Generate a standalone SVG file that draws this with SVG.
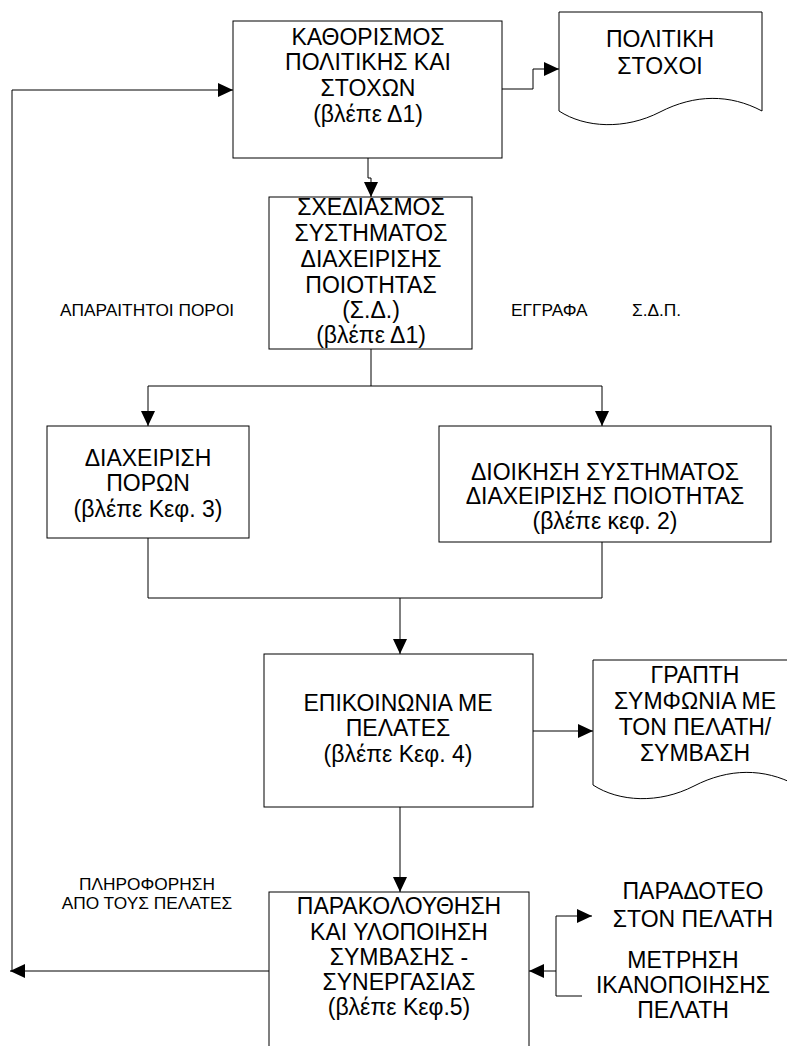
<svg xmlns="http://www.w3.org/2000/svg" width="787" height="1046" viewBox="0 0 787 1046">
<style>
.box{fill:#fff;stroke:#000;stroke-width:1}
.doc{fill:#fff;stroke:#000;stroke-width:1}
.t{font-family:"Liberation Sans",Arial,sans-serif;font-size:23px;fill:#000;text-anchor:middle}
.s{font-family:"Liberation Sans",Arial,sans-serif;font-size:17.3px;fill:#000}
.c{fill:none;stroke:#000;stroke-width:1}
</style>
<defs>
<marker id="ah" viewBox="0 0 15 14" refX="15" refY="7" markerWidth="15" markerHeight="14" markerUnits="userSpaceOnUse" orient="auto">
<path d="M0,0 L15,7 L0,14 z" fill="#000"/>
</marker>
</defs>
<rect width="787" height="1046" fill="#fff"/>

<g id="connectors">
<path class="c" d="M368,158 V178 H371 V197" marker-end="url(#ah)"/>
<path class="c" d="M502,89 H533 V69 H559" marker-end="url(#ah)"/>
<path class="c" d="M12,971 V90 H233" marker-end="url(#ah)"/>
<path class="c" d="M371,349 V386 H148 V426" marker-end="url(#ah)"/>
<path class="c" d="M371,386 H602 V426" marker-end="url(#ah)"/>
<path class="c" d="M148,538 V598 H602 V542"/>
<path class="c" d="M400,598 V654" marker-end="url(#ah)"/>
<path class="c" d="M533,731 H593" marker-end="url(#ah)"/>
<path class="c" d="M400,807 V892" marker-end="url(#ah)"/>
<path class="c" d="M269,971 H10" marker-end="url(#ah)"/>
<path class="c" d="M556,971 H529" marker-end="url(#ah)"/>
<path class="c" d="M582,996 H556 V916 H592" marker-end="url(#ah)"/>
</g>

<g id="n1">
<rect class="box" x="233" y="21" width="269" height="137"/>
<text class="t" x="368" y="45">ΚΑΘΟΡΙΣΜΟΣ</text>
<text class="t" x="368" y="70">ΠΟΛΙΤΙΚΗΣ ΚΑΙ</text>
<text class="t" x="368" y="96">ΣΤΟΧΩΝ</text>
<text class="t" x="368" y="122">(βλέπε Δ1)</text>
</g>

<g id="doc1">
<path class="doc" d="M559,111 V12 H762 V111 C730,94 695,94 660,112 C625,130 585,128 559,111 z"/>
<text class="t" x="660" y="47">ΠΟΛΙΤΙΚΗ</text>
<text class="t" x="660" y="74">ΣΤΟΧΟΙ</text>
</g>

<g id="n2">
<rect class="box" x="269" y="197" width="203" height="152"/>
<text class="t" x="371" y="215">ΣΧΕΔΙΑΣΜΟΣ</text>
<text class="t" x="371" y="241">ΣΥΣΤΗΜΑΤΟΣ</text>
<text class="t" x="371" y="267">ΔΙΑΧΕΙΡΙΣΗΣ</text>
<text class="t" x="371" y="293">ΠΟΙΟΤΗΤΑΣ</text>
<text class="t" x="371" y="318">(Σ.Δ.)</text>
<text class="t" x="371" y="343">(βλέπε Δ1)</text>
</g>

<g id="labels">
<text class="s" x="60" y="316">ΑΠΑΡΑΙΤΗΤΟΙ ΠΟΡΟΙ</text>
<text class="s" y="316"><tspan x="511">ΕΓΓΡΑΦΑ</tspan><tspan x="632">Σ.Δ.Π.</tspan></text>
<text class="s" x="147" y="890" text-anchor="middle">ΠΛΗΡΟΦΟΡΗΣΗ</text>
<text class="s" x="147" y="909" text-anchor="middle">ΑΠΟ ΤΟΥΣ ΠΕΛΑΤΕΣ</text>
</g>

<g id="n3">
<rect class="box" x="47" y="426" width="202" height="112"/>
<text class="t" x="148" y="466">ΔΙΑΧΕΙΡΙΣΗ</text>
<text class="t" x="148" y="491">ΠΟΡΩΝ</text>
<text class="t" x="148" y="517">(βλέπε Κεφ. 3)</text>
</g>

<g id="n4">
<rect class="box" x="439" y="426" width="332" height="116"/>
<text class="t" x="605" y="480">ΔΙΟΙΚΗΣΗ ΣΥΣΤΗΜΑΤΟΣ</text>
<text class="t" x="605" y="504">ΔΙΑΧΕΙΡΙΣΗΣ ΠΟΙΟΤΗΤΑΣ</text>
<text class="t" x="605" y="529">(βλέπε κεφ. 2)</text>
</g>

<g id="n5">
<rect class="box" x="264" y="654" width="269" height="153"/>
<text class="t" x="398" y="711">ΕΠΙΚΟΙΝΩΝΙΑ ΜΕ</text>
<text class="t" x="398" y="736">ΠΕΛΑΤΕΣ</text>
<text class="t" x="398" y="762">(βλέπε Κεφ. 4)</text>
</g>

<g id="doc2">
<path class="doc" d="M593,785 V660 H796 V785 C764,768 729,768 694,786 C659,804 619,802 593,785 z"/>
<text class="t" x="695" y="683">ΓΡΑΠΤΗ</text>
<text class="t" x="695" y="709">ΣΥΜΦΩΝΙΑ ΜΕ</text>
<text class="t" x="695" y="735">ΤΟΝ ΠΕΛΑΤΗ/</text>
<text class="t" x="695" y="761">ΣΥΜΒΑΣΗ</text>
</g>

<g id="n6">
<rect class="box" x="269" y="892" width="260" height="170"/>
<text class="t" x="399" y="914">ΠΑΡΑΚΟΛΟΥΘΗΣΗ</text>
<text class="t" x="399" y="940">ΚΑΙ ΥΛΟΠΟΙΗΣΗ</text>
<text class="t" x="399" y="965">ΣΥΜΒΑΣΗΣ -</text>
<text class="t" x="399" y="990">ΣΥΝΕΡΓΑΣΙΑΣ</text>
<text class="t" x="399" y="1015">(βλέπε Κεφ.5)</text>
</g>

<g id="out1">
<text class="t" x="693" y="899">ΠΑΡΑΔΟΤΕΟ</text>
<text class="t" x="693" y="927">ΣΤΟΝ ΠΕΛΑΤΗ</text>
</g>
<g id="out2">
<text class="t" x="683" y="968">ΜΕΤΡΗΣΗ</text>
<text class="t" x="683" y="993">ΙΚΑΝΟΠΟΙΗΣΗΣ</text>
<text class="t" x="683" y="1018">ΠΕΛΑΤΗ</text>
</g>
</svg>
